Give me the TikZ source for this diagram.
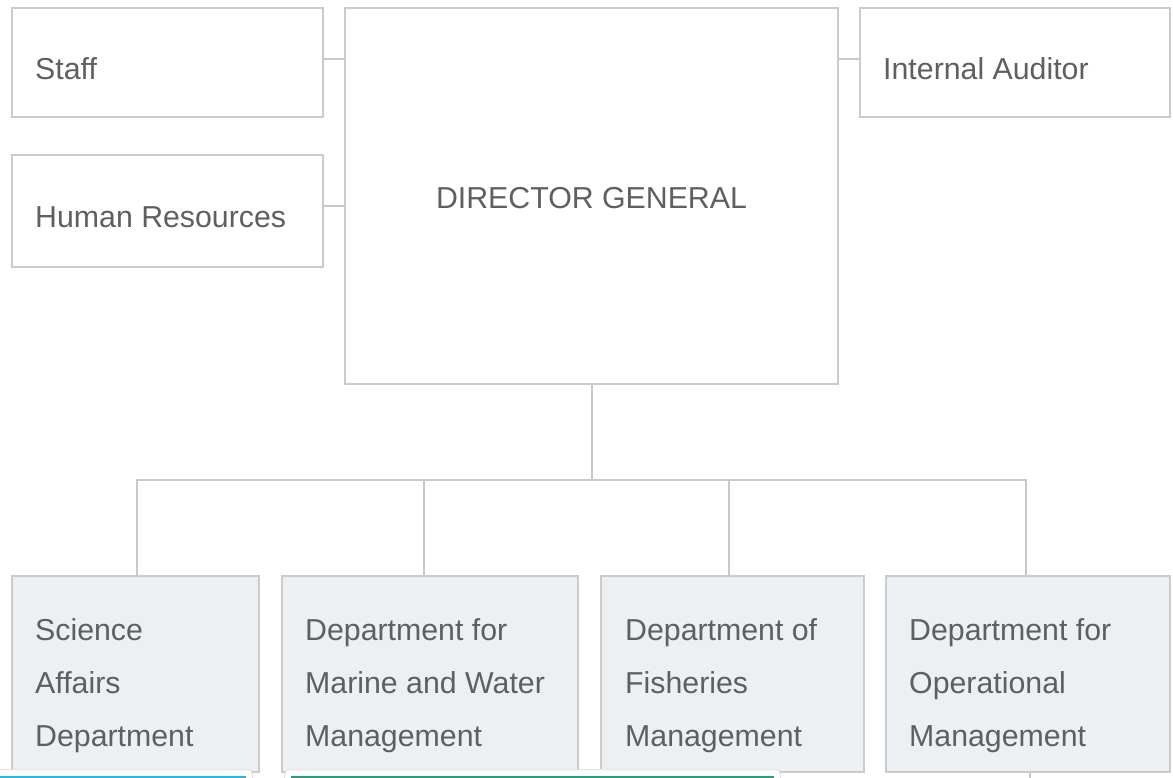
\documentclass[tikz,border=0pt]{standalone}
\usepackage{fontspec}
\setmainfont{Liberation Sans}
\definecolor{linegray}{HTML}{C8C8C8}
\definecolor{boxgray}{HTML}{CBCBCB}
\definecolor{deptfill}{HTML}{ECF0F3}
\definecolor{txt}{HTML}{5F5F5F}
\definecolor{cyanbar}{HTML}{2BB5E6}
\definecolor{greenbar}{HTML}{2A9D7C}
\definecolor{shade}{HTML}{E4E4E4}
\tikzset{
  box/.style={draw=boxgray,line width=2pt,fill=white,inner sep=0pt},
  deptbox/.style={box,fill=deptfill},
  conn/.style={draw=linegray,line width=2pt},
  lbl/.style={text=txt,inner sep=0pt,font=\fontsize{30.3pt}{53pt}\selectfont},
  mlbl/.style={lbl,align=left,anchor=base west},
  tile/.style={draw=shade,line width=1pt,fill=white,rounded corners=5pt,inner sep=0pt}
}
\begin{document}
\begin{tikzpicture}[x=1pt,y=-1pt]
\useasboundingbox (0,0) rectangle (1173,778);
\clip (0,0) rectangle (1173,778);
\fill[white] (0,0) rectangle (1173,778);
% top boxes
\node[box,minimum width=311pt,minimum height=109pt] (staff) at (167.5,62.5) {};
\node[box,minimum width=311pt,minimum height=112pt] (hr) at (167.5,211) {};
\node[box,minimum width=493pt,minimum height=376pt] (dg) at (591.5,196) {};
\node[box,minimum width=310pt,minimum height=109pt] (ia) at (1015,62.5) {};
% department boxes
\node[deptbox,minimum width=247pt,minimum height=196pt] (sci) at (135.5,674) {};
\node[deptbox,minimum width=296pt,minimum height=196pt] (mar) at (430,674) {};
\node[deptbox,minimum width=263pt,minimum height=196pt] (fis) at (732.5,674) {};
\node[deptbox,minimum width=284pt,minimum height=196pt] (ope) at (1028,674) {};
% texts
\node[lbl,anchor=base west] (tstaff) at (35,80) {Staff};
\node[lbl,anchor=base west] (thr) at (35,228) {Human Resources};
\node[lbl,anchor=base] (tdg) at (591.5,209) {DIRECTOR GENERAL};
\node[lbl,anchor=base west] (tia) at (883,80) {Internal Auditor};
\node[mlbl] (tsci) at (35,746) {Science\\Affairs\\Department};
\node[mlbl] (tmar) at (305,746) {Department for\\Marine and Water\\Management};
\node[mlbl] (tfis) at (625,746) {Department of\\Fisheries\\Management};
\node[mlbl] (tope) at (909,746) {Department for\\Operational\\Management};
% side connectors
\draw[conn] ([yshift=3.5pt]staff.east) -- ([yshift=3.5pt]staff.east -| dg.west);
\draw[conn] ([yshift=4.5pt]hr.east) -- ([yshift=4.5pt]hr.east -| dg.west);
\draw[conn] ([yshift=3.5pt]ia.west) -- ([yshift=3.5pt]ia.west -| dg.east);
% tree connectors
\coordinate (bus) at (591.5,480);
\coordinate (psci) at ([xshift=1.5pt]sci.north);
\coordinate (pmar) at ([xshift=-6pt]mar.north);
\coordinate (pfis) at ([xshift=-4pt]fis.north);
\coordinate (pope) at ([xshift=-2.5pt]ope.north);
\draw[conn] (dg.south) -- (bus);
\draw[conn] (psci) -- (psci |- bus) -- (pope |- bus) -- (pope);
\draw[conn] (pmar |- bus) -- (pmar);
\draw[conn] (pfis |- bus) -- (pfis);
\coordinate (below) at ([xshift=2pt]ope.south);
\draw[conn] (below) -- ++(0,10);
% partially visible tiles at the bottom edge
\node[tile,minimum width=262pt,minimum height=30pt,anchor=north west] (tile1) at (-10,769) {};
\node[tile,minimum width=496pt,minimum height=30pt,anchor=north west] (tile2) at (284,769) {};
\draw[cyanbar,line width=3pt] (tile1.west |- 0,777) -- ([xshift=-7pt]tile1.east |- 0,777);
\draw[greenbar,line width=3pt] ([xshift=7pt]tile2.west |- 0,777) -- ([xshift=-7pt]tile2.east |- 0,777);
\end{tikzpicture}
\end{document}
